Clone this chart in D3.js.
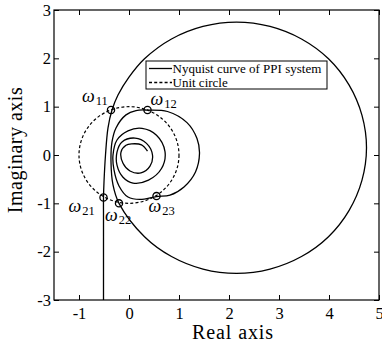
<!DOCTYPE html>
<html>
<head>
<meta charset="utf-8">
<script src="https://cdn.jsdelivr.net/npm/d3@7"></script>
<style>
  body { margin: 0; background: #fff; }
  svg { display: block; }
  text { font-family: "Liberation Serif", "Times New Roman", serif; fill: #000; }
</style>
</head>
<body>
<svg width="382" height="347"></svg>
<script>
var realTicks = [-1, 0, 1, 2, 3, 4, 5];
var imagTicks = [-3, -2, -1, 0, 1, 2, 3];

// Nyquist curve (real part, imaginary part)
var nyqRe = [-0.51, -0.51, -0.51, -0.51, -0.50, -0.47, -0.42, -0.34, -0.22, 0.00,
  0.31, 0.85, 1.48, 2.15, 2.82, 3.45, 3.99, 4.40, 4.66, 4.75,
  4.66, 4.40, 3.99, 3.45, 2.82, 2.15, 1.48, 0.85, 0.31, -0.20,
  -0.32, -0.36, -0.34, -0.26, -0.06, 0.14, 0.37, 0.77, 1.16, 1.36,
  1.41, 1.33, 1.10, 0.82, 0.55, 0.22, -0.02, -0.20, -0.30, -0.32,
  -0.24, -0.02, 0.26, 0.55, 0.72, 0.65, 0.39, 0.08, -0.12, -0.24,
  -0.24, -0.14, 0.12, 0.35, 0.47, 0.42, 0.24, 0.02, -0.12, -0.16,
  -0.06, 0.05, 0.25, 0.37];
var nyqIm = [-3.6, -2.2, -1.3, -0.88, -0.56, 0.0, 0.56, 0.93, 1.24, 1.61,
  1.99, 2.40, 2.66, 2.75, 2.66, 2.40, 1.99, 1.45, 0.82, 0.15,
  -0.52, -1.15, -1.69, -2.10, -2.36, -2.45, -2.36, -2.10, -1.69, -1.00,
  -0.62, -0.14, 0.27, 0.56, 0.83, 0.92, 0.93, 0.90, 0.67, 0.34,
  0.03, -0.35, -0.66, -0.83, -0.86, -0.92, -0.87, -0.64, -0.31, 0.00,
  0.31, 0.50, 0.55, 0.41, 0.07, -0.28, -0.52, -0.58, -0.46, -0.21,
  0.06, 0.27, 0.35, 0.24, 0.00, -0.23, -0.37, -0.33, -0.17, 0.06,
  0.20, 0.23, 0.21, 0.08];

// crossing points with the unit circle
var crossRe = [-0.36, 0.37, -0.51, -0.20, 0.55];
var crossIm = [0.93, 0.93, -0.88, -1.00, -0.85];
var crossSub = ["11", "12", "21", "22", "23"];

var legendNames = ["Nyquist curve of PPI system", "Unit circle"];

var svg = d3.select("svg");

var x = d3.scaleLinear().domain([-1.5, 5]).range([54, 379]);
var y = d3.scaleLinear().domain([-3, 3]).range([300, 10]);

svg.append("clipPath").attr("id", "plot")
  .append("rect")
  .attr("x", x(-1.5)).attr("y", y(3))
  .attr("width", x(5) - x(-1.5)).attr("height", y(-3) - y(3));

var g = svg.append("g").attr("clip-path", "url(#plot)");

// unit circle
g.append("ellipse")
  .attr("cx", x(0)).attr("cy", y(0))
  .attr("rx", x(1) - x(0)).attr("ry", y(0) - y(1))
  .attr("fill", "none")
  .attr("stroke", "#000")
  .attr("stroke-width", 1.2)
  .attr("stroke-dasharray", "3,2.2");

var pts = nyqRe.map(function (d, i) { return [d, nyqIm[i]]; });

var line = d3.line()
  .x(function (d) { return x(d[0]); })
  .y(function (d) { return y(d[1]); })
  .curve(d3.curveCatmullRom.alpha(0.5));

g.append("path")
  .datum(pts)
  .attr("d", line)
  .attr("fill", "none")
  .attr("stroke", "#000")
  .attr("stroke-width", 1.3);

// crossing markers
g.selectAll(".mark")
  .data(crossRe)
  .enter().append("circle")
  .attr("class", "mark")
  .attr("cx", function (d) { return x(d); })
  .attr("cy", function (d, i) { return y(crossIm[i]); })
  .attr("r", 3.6)
  .attr("fill", "none")
  .attr("stroke", "#000")
  .attr("stroke-width", 1.3);

// omega labels, offsets in pixels from the marker
var labOff = [[-29, -8], [3, -5], [-35, 14], [-14, 18], [-8, 15.5]];
crossRe.forEach(function (d, i) {
  var t = svg.append("text")
    .attr("x", x(d) + labOff[i][0])
    .attr("y", y(crossIm[i]) + labOff[i][1])
    .style("font-size", "18px");
  t.append("tspan").style("font-style", "italic").text("\u03c9");
  t.append("tspan")
    .attr("dx", 1).attr("dy", 3)
    .style("font-size", "12.5px")
    .text(crossSub[i]);
});

// frame
svg.append("rect")
  .attr("x", x(-1.5)).attr("y", y(3))
  .attr("width", x(5) - x(-1.5)).attr("height", y(-3) - y(3))
  .attr("fill", "none")
  .attr("stroke", "#000")
  .attr("stroke-width", 1.2);

///////////////////// AXES ////////////////////
var plain = function (d) { return String(d); };   // hyphen minus, no decimals

var xAxis = d3.axisBottom(x).tickValues(realTicks).tickFormat(plain).tickSizeInner(-5).tickSizeOuter(0).tickPadding(7);
var xTop = d3.axisTop(x).tickValues(realTicks).tickSizeInner(-5).tickSizeOuter(0).tickFormat("");
var yAxis = d3.axisLeft(y).tickValues(imagTicks).tickFormat(plain).tickSizeInner(-5).tickSizeOuter(0).tickPadding(3);
var yRight = d3.axisRight(y).tickValues(imagTicks).tickSizeInner(-5).tickSizeOuter(0).tickFormat("");

function styleAxis(sel) {
  sel.select(".domain").remove();
  sel.selectAll(".tick line").attr("stroke", "#000").attr("stroke-width", 1);
  sel.selectAll(".tick text")
    .attr("fill", "#000")
    .style("font-family", "'Liberation Serif', serif")
    .style("font-size", "16.5px");
}

svg.append("g").attr("transform", "translate(0," + y(-3) + ")").call(xAxis).call(styleAxis);
svg.append("g").attr("transform", "translate(0," + y(3) + ")").call(xTop).call(styleAxis);
svg.append("g").attr("transform", "translate(" + x(-1.5) + ",0)").call(yAxis).call(styleAxis);
svg.append("g").attr("transform", "translate(" + x(5) + ",0)").call(yRight).call(styleAxis);

svg.append("text")
  .attr("text-anchor", "middle")
  .attr("x", 233).attr("y", 339)
  .style("font-size", "20px")
  .style("letter-spacing", "0.9px")
  .text("Real axis");

svg.append("text")
  .attr("text-anchor", "middle")
  .attr("transform", "translate(22,150)rotate(-90)")
  .style("font-size", "20px")
  .style("letter-spacing", "0.5px")
  .text("Imaginary axis");

///////////////////// LEGEND ////////////////////
var lg = svg.append("g").attr("transform", "translate(146,61)");
lg.append("rect")
  .attr("width", 181).attr("height", 28)
  .attr("fill", "#fff")
  .attr("stroke", "#000")
  .attr("stroke-width", 1);

legendNames.forEach(function (name, i) {
  var yy = 7.5 + i * 14;
  lg.append("line")
    .attr("x1", 3).attr("x2", 26)
    .attr("y1", yy).attr("y2", yy)
    .attr("stroke", "#000")
    .attr("stroke-width", 1.3)
    .attr("stroke-dasharray", i === 0 ? null : "3,2.2");
  lg.append("text")
    .attr("x", 26.5).attr("y", yy + 4)
    .style("font-size", "13px")
    .text(name);
});
</script>
</body>
</html>
